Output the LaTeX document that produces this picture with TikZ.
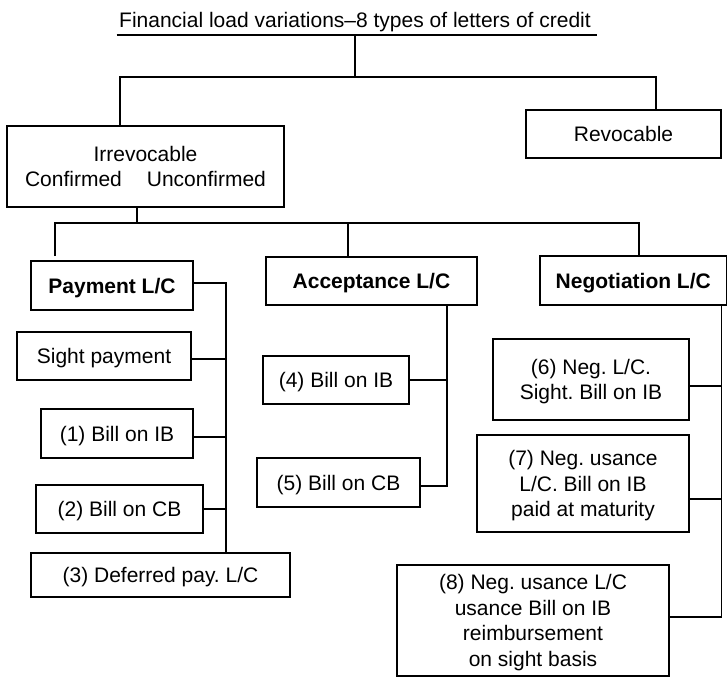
\documentclass[tikz,border=0pt]{standalone}
\usepackage{fontspec}
\setmainfont{Liberation Sans}
\frenchspacing
% centred multi-line text whose baseline is that of its first line
\newcommand\stack[1]{\begin{tabular}[t]{@{}c@{}}#1\end{tabular}}
\begin{document}
\begin{tikzpicture}[x=1pt,y=-1pt,
  every node/.style={font=\fontsize{21}{25.5}\selectfont},
  link/.style={line width=1.6pt},
  box/.style={draw, line width=1.6pt, inner sep=0pt, text height=15pt, text depth=#1},
  box/.default=0pt]
\useasboundingbox (0,0) rectangle (728,678);

% heading
\node[anchor=base, inner sep=0pt] (title) at (355,27) {Financial load variations–8 types of letters of credit};
\draw[link] ([xshift=-2.5pt,yshift=-8pt]title.base west) -- ([xshift=6.5pt,yshift=-8pt]title.base east);

% first level
\node[box=25.5pt, minimum width=277pt, minimum height=81pt] (irr) at (145.5,166.5)
  {\stack{Irrevocable\\Confirmed\hspace{25pt}Unconfirmed}};
\node[box, minimum width=195pt, minimum height=48pt] (rev) at (623.5,134) {Revocable};

% second level
\node[box, minimum width=162pt, minimum height=49pt] (pay) at (112,285.5) {\textbf{Payment L/C}};
\node[box, minimum width=211pt, minimum height=48pt] (acc) at (371.5,281) {\textbf{Acceptance L/C}};
\node[box, minimum width=186.5pt, minimum height=49pt] (neg) at (633.25,280.5) {\textbf{Negotiation L/C}};

% payment branch
\node[box, minimum width=174pt, minimum height=48pt] (sight) at (104,356) {Sight payment};
\node[box, minimum width=152pt, minimum height=49pt] (b1) at (117,433.5) {(1) Bill on IB};
\node[box, minimum width=167pt, minimum height=48pt] (b2) at (119.5,509) {(2) Bill on CB};
\node[box, minimum width=259pt, minimum height=44pt] (b3) at (160.5,575) {(3) Deferred pay. L/C};

% acceptance branch
\node[box, minimum width=146pt, minimum height=48pt] (b4) at (336,380) {(4) Bill on IB};
\node[box, minimum width=163pt, minimum height=49pt] (b5) at (338.5,482.5) {(5) Bill on CB};

% negotiation branch
\node[box=25.5pt, minimum width=196pt, minimum height=81pt] (b6) at (591,379.5)
  {\stack{(6) Neg. L/C.\\Sight. Bill on IB}};
\node[box=51pt, minimum width=212pt, minimum height=97pt] (b7) at (583,483.5)
  {\stack{(7) Neg. usance\\L/C. Bill on IB\\paid at maturity}};
\node[box=76.5pt, minimum width=272pt, minimum height=111pt] (b8) at (533,620.5)
  {\stack{(8) Neg. usance L/C\\usance Bill on IB\\reimbursement\\on sight basis}};

% junctions and bus lines
\coordinate (j1) at (355,77);
\coordinate (j2) at (137,223);
\coordinate (pb) at (226,283);
\coordinate (ab) at (447,305);
\coordinate (nb) at (721.5,305);

\draw[link] ([yshift=-8pt]title.base) -- (j1);
\draw[link] ([xshift=-25.5pt]irr.north) |- (j1) -| ([xshift=32.5pt]rev.north);

\draw[link] ([xshift=-8.5pt]irr.south) -- (j2);
\draw[link] ([xshift=-57pt,yshift=4pt]pay.north) |- (j2) -| ([xshift=5.75pt]neg.north);
\draw[link] ([xshift=-23.5pt]acc.north) -- ([xshift=-23.5pt]acc.north |- j2);

\draw[link] ([yshift=2.5pt]pay.east) -| ([xshift=65.5pt]b3.north);
\draw[link] ([yshift=-3pt]sight.east) -- ([yshift=-3pt]sight.east -| pb);
\draw[link] ([yshift=-3.5pt]b1.east) -- ([yshift=-3.5pt]b1.east -| pb);
\draw[link] (b2.east) -- (b2.east -| pb);

\draw[link] ([xshift=75.5pt]acc.south) |- ([yshift=-3.5pt]b5.east);
\draw[link] (b4.east) -- (b4.east -| ab);

\draw[link] ([xshift=88.25pt]neg.south) |- ([yshift=3.5pt]b8.east);
\draw[link] ([yshift=-6.5pt]b6.east) -- ([yshift=-6.5pt]b6.east -| nb);
\draw[link] ([yshift=-15.5pt]b7.east) -- ([yshift=-15.5pt]b7.east -| nb);
\end{tikzpicture}
\end{document}
